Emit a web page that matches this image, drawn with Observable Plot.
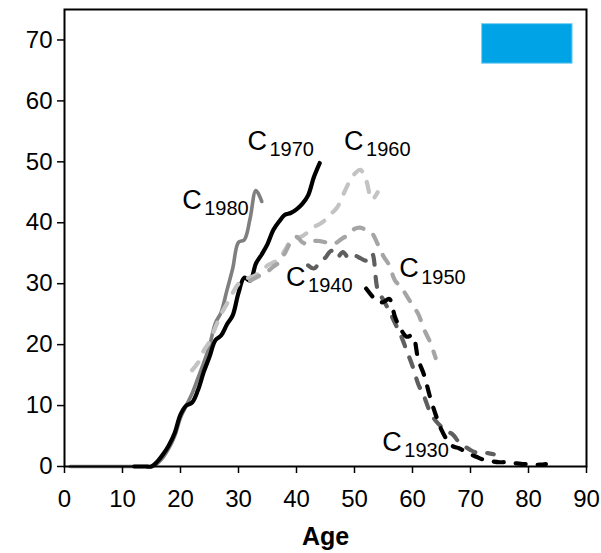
<!DOCTYPE html>
<html>
<head>
<meta charset="utf-8">
<script src="https://cdn.jsdelivr.net/npm/d3@7"></script>
<script src="https://cdn.jsdelivr.net/npm/@observablehq/plot@0.6"></script>
<style>
  html, body { margin: 0; padding: 0; background: #fff; }
  #chart { width: 601px; height: 553px; }
  #chart svg g[aria-label="x-axis tick label"],
  #chart svg g[aria-label="x-axis tick label"] text,
  #chart svg g[aria-label="y-axis tick label"],
  #chart svg g[aria-label="y-axis tick label"] text { font-size: 24px; }
</style>
</head>
<body>
<div id="chart"></div>
<script>
// ---- data ----
const cohorts = ["1980", "1970", "1960", "1950", "1940", "1930"];
const startAge = [1, 12, 22, 32, 42, 52];

const values1980 = [0,0,0,0,0,0,0,0,0,0,0,0,0,0,0,0.5,1.5,3,5,8,10,12,14.5,17,19.8,23.5,25.3,28.9,32.5,36.8,37.2,40.7,45.3,43.5];
const values1970 = [0,0,0,0,0.8,2,3.5,5.5,8.5,10,10.5,12.5,15.5,18,20.7,21.5,23.3,24.8,28.5,31,30.5,33.3,34.8,36.5,38.8,40.2,41.3,41.6,42.2,43.1,44.5,47.5,49.8];
const values1960 = [15.8,17,19,20.5,22.8,25,26.7,28.5,30,30.8,31,31.4,32,33,33.5,34,35.5,37,37.5,37.8,38.5,39.3,39.8,40.5,41.5,42.5,44.5,46.5,48,48.7,47,43.8,45];
const values1950 = [30.5,31,31.5,32,32.8,33.5,35,36.8,37.7,36.8,36.5,37,37,36.8,36.5,36.8,37.5,38,39,39.2,38.8,38.3,36.5,34.5,33,30.5,29.5,28,26.5,25,22.5,20.5,17.8];
const values1940 = [33,32.5,33.5,34.3,35.4,34.3,35.2,34.2,34.6,34.2,33.8,35,29,27.3,25.5,23.5,21.5,19,16.5,13.5,11.5,9,7.5,6.5,5.8,5.2,4,3.3,2.7,2.3,2.3,2.2,2];
const values1930 = [29.2,28,27,27,27.5,24.5,22.5,21.3,21.5,17.5,15,11.5,8.5,6,4.3,3.3,3,2.5,2,1.6,1.2,1,0.8,0.7,0.7,0.6,0.5,0.4,0.4,0.3,0.3,0.4];
const seriesValues = [values1980, values1970, values1960, values1950, values1940, values1930];

const xTicks = [0, 10, 20, 30, 40, 50, 60, 70, 80, 90];
const yTicks = [0, 10, 20, 30, 40, 50, 60, 70];
const xLabel = "Age";

// cohort label anchors (data coordinates)
const labelX = [20.3, 31.55, 48.2, 57.7, 38.2, 54.8];
const labelY = [42.3, 52.0, 52.0, 31.1, 29.7, 2.6];

// blue box in the upper right (data coordinates)
const boxX = [72.0, 87.6];
const boxY = [66.1, 72.6];

// ---- styles ----
const styles = {
  "1980": {stroke: "#7f7f7f", strokeWidth: 3.6},
  "1970": {stroke: "#000000", strokeWidth: 4.2},
  "1960": {stroke: "#c3c3c3", strokeWidth: 4.2, strokeDasharray: "10,12"},
  "1950": {stroke: "#a5a5a5", strokeWidth: 4.2, strokeDasharray: "10,12"},
  "1940": {stroke: "#5f5f5f", strokeWidth: 4.2, strokeDasharray: "10,12"},
  "1930": {stroke: "#000000", strokeWidth: 4.2, strokeDasharray: "10,12"}
};

const rows = [];
cohorts.forEach((c, k) => {
  seriesValues[k].forEach((v, i) => rows.push({cohort: c, age: startAge[k] + i, value: v}));
});
const labels = cohorts.map((c, k) => ({cohort: c, x: labelX[k], y: labelY[k]}));

const lineMarks = cohorts.map(c => Plot.line(rows.filter(d => d.cohort === c), {
  x: "age", y: "value",
  curve: "catmull-rom",
  strokeLinecap: "round", strokeLinejoin: "round",
  ...styles[c]
}));

const chart = Plot.plot({
  width: 601,
  height: 553,
  marginLeft: 64,
  marginRight: 15,
  marginTop: 9,
  marginBottom: 87,
  style: {fontFamily: "'Liberation Sans', Arial, Helvetica, sans-serif", fontSize: "24px", color: "#000", background: "#fff"},
  x: {domain: [0, 90]},
  y: {domain: [0, 75]},
  marks: [
    Plot.rect([0], {x1: () => boxX[0], x2: () => boxX[1], y1: () => boxY[0], y2: () => boxY[1], fill: "#00a3e6", stroke: "#7fd0f2", strokeWidth: 1}),
    ...lineMarks,
    Plot.text(labels, {x: "x", y: "y", text: () => "C", fontSize: 27, textAnchor: "start", lineAnchor: "bottom", fill: "#000"}),
    Plot.text(labels, {x: "x", y: "y", text: "cohort", fontSize: 20, textAnchor: "start", lineAnchor: "bottom", dx: 22, dy: 6.7, fill: "#000"}),
    Plot.axisX({ticks: xTicks, tickSize: 7, tickPadding: 16, strokeWidth: 1.5, fontSize: 24, label: null}),
    Plot.axisY({ticks: yTicks, tickSize: 7, tickPadding: 5, strokeWidth: 1.5, fontSize: 24, label: null}),
    Plot.text([xLabel], {frameAnchor: "bottom", lineAnchor: "bottom", dy: 78, fontWeight: "bold", fontSize: 25, fill: "#000"}),
    Plot.frame({stroke: "#000", strokeWidth: 2})
  ]
});

document.getElementById("chart").appendChild(chart);
</script>
</body>
</html>
